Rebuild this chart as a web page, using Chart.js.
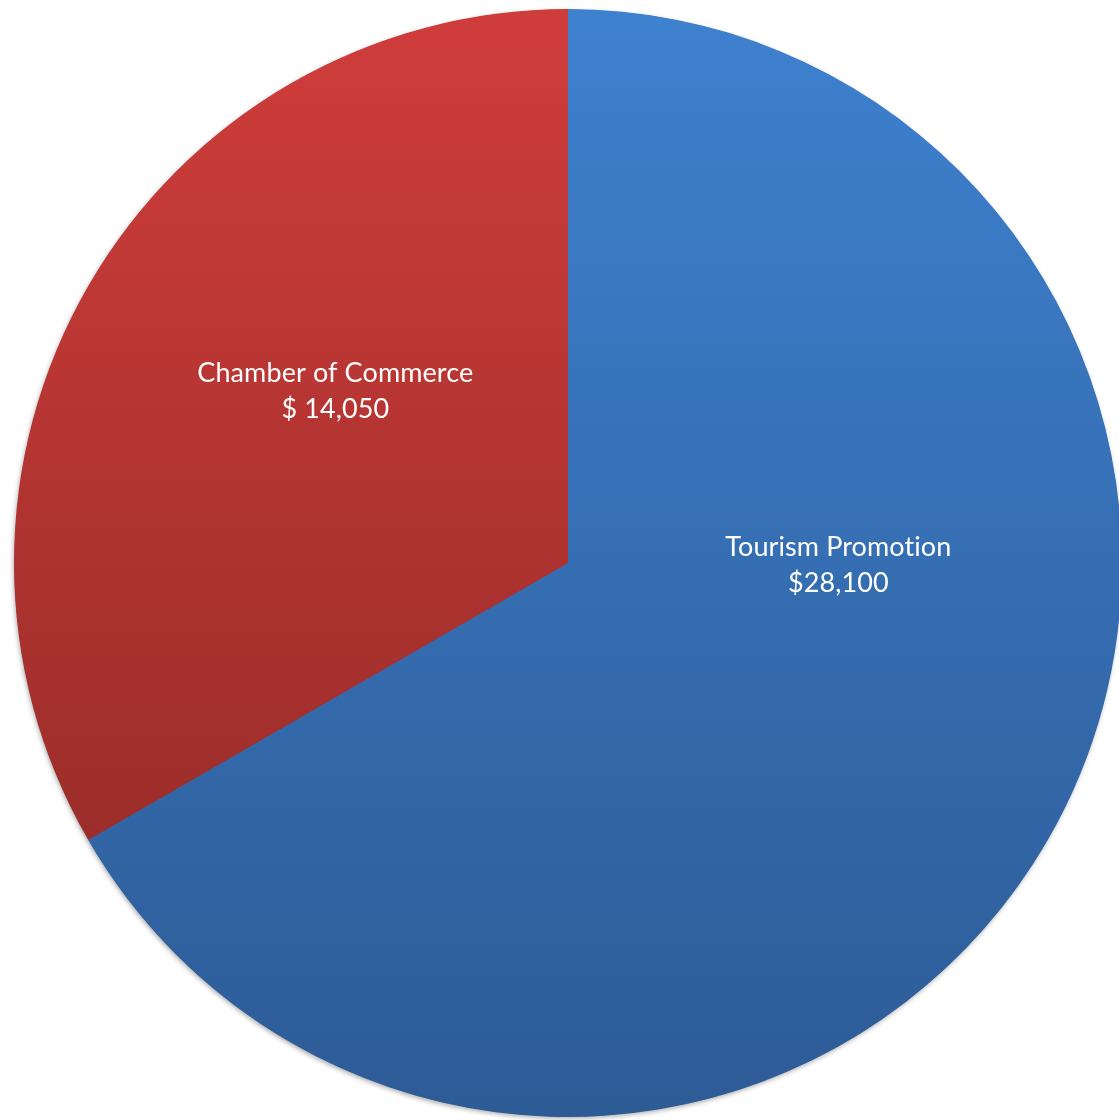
<!DOCTYPE html>
<html>
<head>
<meta charset="utf-8">
<title>Budget split</title>
<script src="https://cdn.jsdelivr.net/npm/chart.js@4/dist/chart.umd.min.js"></script>
<style>
  html, body { margin: 0; padding: 0; background: #fff; overflow: hidden; }
  .wrap { position: relative; width: 1140px; height: 1130px; }
</style>
</head>
<body>
<div class="wrap"><canvas id="chartBudget"></canvas></div>
<script>
  // budget categories and amounts
  var categories = ["Tourism Promotion", "Chamber of Commerce"];
  var amounts = [28100, 14050];
  var currencyPrefix = ["$", "$ "];

  (function () {
    "use strict";

    // top / bottom gradient stops for each slice
    var sliceColors = [
      ["#3E81CF", "#2D5B96"],
      ["#CF3D3B", "#8B2824"],
    ];

    // label anchor, as a fraction of the radius from the pie centre
    var labelAnchor = [
      { x: 0.488, y: 0.004 },
      { x: -0.42, y: -0.31 },
    ];

    function money(i) {
      return currencyPrefix[i] + amounts[i].toLocaleString("en-US");
    }

    function sliceFill(ctx) {
      var chart = ctx.chart;
      var area = chart.chartArea;
      var cols = sliceColors[ctx.dataIndex];
      if (!area) return cols[0];
      var g = chart.ctx.createLinearGradient(0, area.top, 0, area.bottom);
      g.addColorStop(0, cols[0]);
      g.addColorStop(1, cols[1]);
      return g;
    }

    // soft drop shadow under the whole disc, drawn once behind the slices
    var pieShadow = {
      id: "pieShadow",
      beforeDatasetsDraw: function (chart) {
        var arc = chart.getDatasetMeta(0).data[0];
        if (!arc) return;
        var c = chart.ctx;
        c.save();
        c.shadowColor = "rgba(0,0,0,0.35)";
        c.shadowBlur = 5;
        c.shadowOffsetX = -1;
        c.shadowOffsetY = 2;
        c.fillStyle = "#355f9a";
        c.beginPath();
        c.arc(arc.x, arc.y, arc.outerRadius - 0.5, 0, Math.PI * 2);
        c.fill();
        c.restore();
      },
    };

    var sliceLabels = {
      id: "sliceLabels",
      afterDatasetsDraw: function (chart) {
        var c = chart.ctx;
        var meta = chart.getDatasetMeta(0);
        c.save();
        c.fillStyle = "#ffffff";
        c.textAlign = "center";
        c.textBaseline = "middle";
        c.font = "27px Lato, 'Open Sans', sans-serif";
        // a hair of tracking keeps "ti" from joining into a ligature
        c.letterSpacing = "0.1px";
        meta.data.forEach(function (arc, i) {
          var r = arc.outerRadius;
          var cx = arc.x + labelAnchor[i].x * r;
          var cy = arc.y + labelAnchor[i].y * r;
          c.fillText(categories[i], cx, cy - 18);
          c.fillText(money(i), cx, cy + 18);
        });
        c.restore();
      },
    };

    new Chart(document.getElementById("chartBudget"), {
      type: "pie",
      data: {
        labels: categories,
        datasets: [
          {
            data: amounts,
            backgroundColor: sliceFill,
            borderWidth: 0,
            hoverOffset: 0,
          },
        ],
      },
      options: {
        responsive: true,
        maintainAspectRatio: false,
        animation: false,
        layout: { padding: { left: 14, top: 9, right: 18, bottom: 13 } },
        plugins: {
          legend: { display: false },
          tooltip: { enabled: false },
        },
      },
      plugins: [pieShadow, sliceLabels],
    });
  })();
</script>
</body>
</html>
